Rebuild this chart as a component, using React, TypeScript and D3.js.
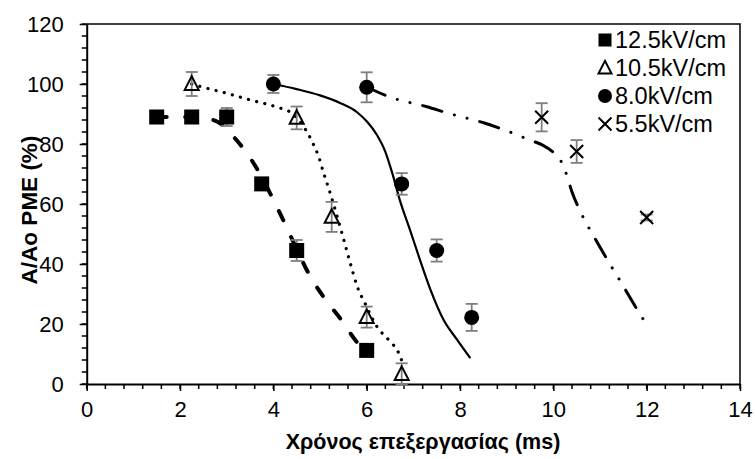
import { useEffect, useRef } from "react";
import * as d3 from "d3";

// measured points (time in ms, A/Ao %, error)
const t125 = [1.5, 2.25, 3, 3.75, 4.5, 6];
const a125 = [89, 89, 89, 66.7, 44.5, 11.2];
const e125 = [0.8, 0.8, 3, 0.8, 3.5, 2];

const t105 = [2.25, 4.5, 5.25, 6, 6.75];
const a105 = [100, 88.7, 55.7, 22.3, 3.3];
const e105 = [4, 3.8, 5, 3.5, 3.6];

const t80 = [4, 6, 6.75, 7.5, 8.25];
const a80 = [100, 98.9, 66.7, 44.5, 22.2];
const e80 = [3, 5, 3.6, 3.7, 4.5];

const t55 = [9.75, 10.5, 12];
const a55 = [88.9, 77.5, 55.5];
const e55 = [4.7, 3.8, 1];

// fitted curves
const fit125x = [1.5, 2.25, 2.75, 3.2, 3.6, 3.95, 4.2, 4.5, 4.75, 5.1, 5.45, 5.8, 6];
const fit125y = [89, 89, 87.8, 81.5, 73, 63, 55, 45, 37, 28.5, 21.5, 13.8, 11];

const fit105x = [2.25, 2.45, 3.0, 3.5, 4.05, 4.4, 4.65, 4.83, 4.97, 5.08, 5.2, 5.5, 5.65, 5.8, 5.97, 6.22, 6.47, 6.69, 6.77];
const fit105y = [100, 99.1, 96.9, 94.7, 92.4, 90.2, 85.8, 80.8, 75.8, 70.2, 64.5, 48.6, 40.2, 32.4, 26.7, 19.1, 14.7, 10.2, 7];

const fit80x = [4, 4.5, 5.0, 5.44, 5.8, 6.01, 6.22, 6.4, 6.55, 6.72, 6.93, 7.12, 7.37, 7.65, 7.94, 8.22];
const fit80y = [100, 98.3, 96.2, 93.6, 90.5, 87.4, 83, 77.4, 70.2, 60.8, 51.3, 42.4, 31.3, 21.3, 14.7, 8.6];

const fit55x = [6, 6.47, 7.29, 7.76, 8.54, 9.0, 9.5, 9.76, 10.0, 10.15, 10.26, 10.4, 10.6, 10.9, 11.2, 11.5, 11.75, 12];
const fit55y = [99, 95.8, 92.4, 90.2, 86.9, 84.4, 81.3, 79.7, 77.2, 74.7, 70.8, 64, 56.8, 48.3, 40.3, 32.6, 26, 19.8];

const legendLabels = ["12.5kV/cm", "10.5kV/cm", "8.0kV/cm", "5.5kV/cm"];
const xTicks = [0, 2, 4, 6, 8, 10, 12, 14];
const yTicks = [0, 20, 40, 60, 80, 100, 120];

const FONT = "'Liberation Sans', Arial, sans-serif";

const App = () => {
    const svgRef = useRef<SVGSVGElement | null>(null);

    useEffect(() => {
        const svg = d3.select(svgRef.current);
        svg.selectAll("*").remove();

        const left = 86.7, right = 740, top = 24, bottom = 384;
        const x = d3.scaleLinear().domain([0, 14]).range([left, right]);
        const y = d3.scaleLinear().domain([0, 120]).range([bottom, top]);

        // plot frame (top / right)
        svg.append("path")
            .attr("d", `M${left},${top}H${right}V${bottom}`)
            .attr("fill", "none")
            .attr("stroke", "#000")
            .attr("stroke-width", 1.5);

        // minor ticks
        const g = svg.append("g");
        d3.range(0, 14.01, 0.4).forEach((v) => {
            g.append("line").attr("x1", x(v)).attr("x2", x(v)).attr("y1", bottom).attr("y2", bottom + 5)
                .attr("stroke", "#000").attr("stroke-width", 1.5);
        });
        d3.range(0, 120.01, 4).forEach((v) => {
            g.append("line").attr("x1", left - 5).attr("x2", left).attr("y1", y(v)).attr("y2", y(v))
                .attr("stroke", "#000").attr("stroke-width", 1.5);
        });

        // axes
        svg.append("g")
            .attr("transform", `translate(0,${bottom})`)
            .call(d3.axisBottom(x).tickValues(xTicks).tickSize(7).tickSizeOuter(0).tickPadding(10))
            .call((a) => a.select(".domain").attr("stroke-width", 2))
            .call((a) => a.selectAll(".tick line").attr("stroke-width", 1.5))
            .call((a) => a.selectAll("text").style("font-family", FONT).style("font-size", "22px").attr("fill", "#000"));

        svg.append("g")
            .attr("transform", `translate(${left},0)`)
            .call(d3.axisLeft(y).tickValues(yTicks).tickSize(7).tickSizeOuter(0).tickPadding(16))
            .call((a) => a.select(".domain").attr("stroke-width", 2))
            .call((a) => a.selectAll(".tick line").attr("stroke-width", 1.5))
            .call((a) => a.selectAll("text").style("font-family", FONT).style("font-size", "22px").attr("fill", "#000"));

        // axis titles
        svg.append("text")
            .attr("x", 423).attr("y", 449)
            .attr("text-anchor", "middle")
            .style("font-family", FONT).style("font-size", "21.5px").style("font-weight", "bold")
            .text("Χρόνος επεξεργασίας (ms)");

        svg.append("text")
            .attr("transform", "translate(37,210) rotate(-90)")
            .attr("text-anchor", "middle")
            .style("font-family", FONT).style("font-size", "22.5px").style("font-weight", "bold")
            .text("A/Ao PME (%)");

        // fitted lines
        const line = d3.line<[number, number]>()
            .x((d) => x(d[0]))
            .y((d) => y(d[1]))
            .curve(d3.curveMonotoneX);
        const zip = (xs: number[], ys: number[]) => xs.map((v, i) => [v, ys[i]] as [number, number]);

        const fits = [
            { d: zip(fit125x, fit125y), w: 4, dash: "10 18.5", cap: "round" },
            { d: zip(fit105x, fit105y), w: 3.2, dash: "0.1 8.3", cap: "round" },
            { d: zip(fit80x, fit80y), w: 2.2, dash: null, cap: "butt" },
            { d: zip(fit55x, fit55y), w: 3, dash: "20 13 0.1 13 0.1 13", cap: "round" },
        ];
        fits.forEach((f) => {
            svg.append("path")
                .attr("d", line(f.d))
                .attr("fill", "none")
                .attr("stroke", "#000")
                .attr("stroke-width", f.w)
                .attr("stroke-linecap", f.cap)
                .attr("stroke-dasharray", f.dash);
        });

        // error bars
        const errG = svg.append("g").attr("stroke", "#7f7f7f").attr("stroke-width", 1.8);
        const drawErr = (ts: number[], as: number[], es: number[]) => {
            ts.forEach((t, i) => {
                const cx = x(t), y1 = y(as[i] + es[i]), y2 = y(as[i] - es[i]);
                errG.append("line").attr("x1", cx).attr("x2", cx).attr("y1", y1).attr("y2", y2);
                errG.append("line").attr("x1", cx - 6).attr("x2", cx + 6).attr("y1", y1).attr("y2", y1);
                errG.append("line").attr("x1", cx - 6).attr("x2", cx + 6).attr("y1", y2).attr("y2", y2);
            });
        };
        drawErr(t125, a125, e125);
        drawErr(t105, a105, e105);
        drawErr(t80, a80, e80);
        drawErr(t55, a55, e55);

        // marker shapes
        const square = (p: any, cx: number, cy: number, s: number) =>
            p.append("rect").attr("x", cx - s / 2).attr("y", cy - s / 2).attr("width", s).attr("height", s).attr("fill", "#000");
        const triangle = (p: any, cx: number, cy: number, s: number) =>
            p.append("path")
                .attr("d", `M${cx},${cy - s * 0.55}L${cx + s / 2},${cy + s * 0.42}L${cx - s / 2},${cy + s * 0.42}Z`)
                .attr("fill", "none").attr("stroke", "#000").attr("stroke-width", 2);
        const circle = (p: any, cx: number, cy: number, s: number) =>
            p.append("circle").attr("cx", cx).attr("cy", cy).attr("r", s / 2).attr("fill", "#000");
        const cross = (p: any, cx: number, cy: number, s: number) =>
            p.append("path")
                .attr("d", `M${cx - s / 2},${cy - s / 2}L${cx + s / 2},${cy + s / 2}M${cx - s / 2},${cy + s / 2}L${cx + s / 2},${cy - s / 2}`)
                .attr("stroke", "#000").attr("stroke-width", 2);

        const mk = svg.append("g");
        t125.forEach((t, i) => square(mk, x(t), y(a125[i]), 15));
        t105.forEach((t, i) => triangle(mk, x(t), y(a105[i]), 14));
        t80.forEach((t, i) => circle(mk, x(t), y(a80[i]), 15));
        t55.forEach((t, i) => cross(mk, x(t), y(a55[i]), 13));

        // legend
        const shapes = [square, triangle, circle, cross];
        const sizes = [13, 13, 14, 13];
        const lg = svg.append("g");
        legendLabels.forEach((lab, i) => {
            const cy = 40 + i * 28;
            shapes[i](lg, 605, cy, sizes[i]);
            lg.append("text")
                .attr("x", 615).attr("y", cy).attr("dy", "0.36em")
                .style("font-family", FONT).style("font-size", "23.5px")
                .text(lab);
        });
    }, []);

    return (
        <svg
            ref={svgRef}
            width={755}
            height={459}
            style={{ position: "absolute", left: 0, top: 0, background: "#fff" }}
        />
    );
};

export default App;
